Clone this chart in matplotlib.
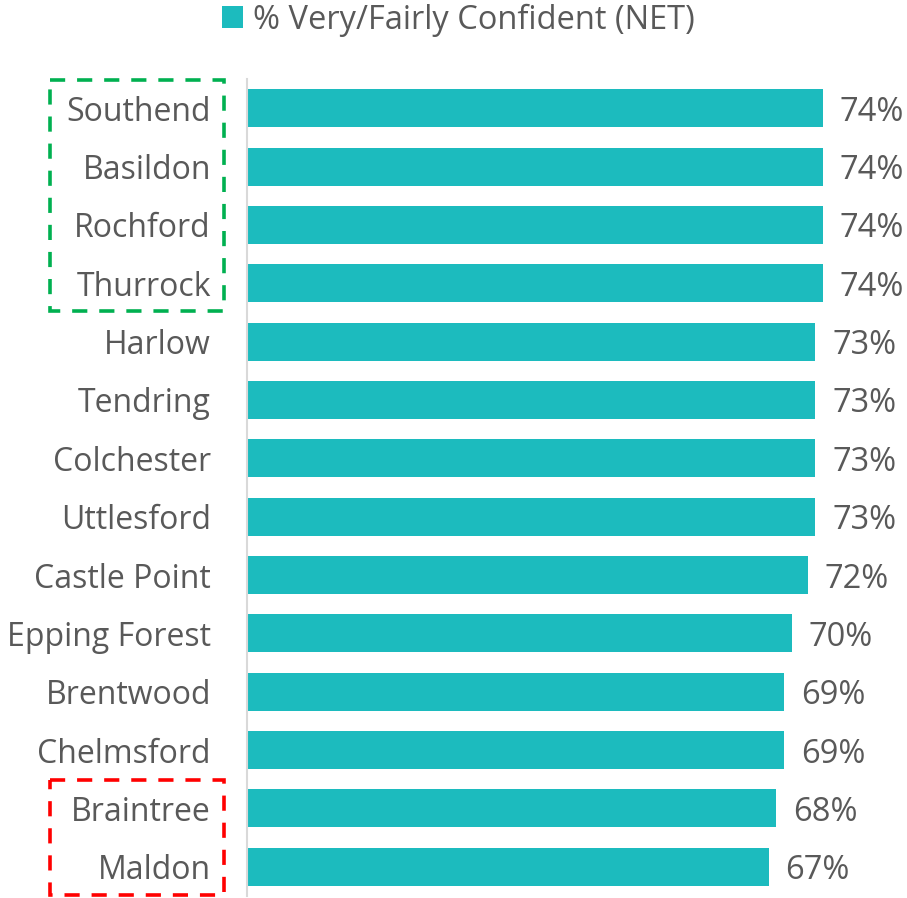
import matplotlib
matplotlib.use("Agg")
import matplotlib.pyplot as plt
from matplotlib.patches import Patch, Rectangle
from matplotlib.transforms import blended_transform_factory

# Survey results by district
districts = ["Southend", "Basildon", "Rochford", "Thurrock", "Harlow", "Tendring",
             "Colchester", "Uttlesford", "Castle Point", "Epping Forest", "Brentwood",
             "Chelmsford", "Braintree", "Maldon"]
confident = [74, 74, 74, 74, 73, 73, 73, 73, 72, 70, 69, 69, 68, 67]
series_name = "% Very/Fairly Confident (NET)"

# highlighted groups (first/last index of each box)
top_group = (0, 3)
bottom_group = (12, 13)

teal = "#1CBBBE"
text_col = "#595959"

plt.rcParams['font.family'] = ['Open Sans', 'DejaVu Sans']

fig = plt.figure(figsize=(9.07, 8.98), dpi=100)
ax = fig.add_axes([247 / 907, 1 - 896 / 898, 654 / 907, (896 - 79) / 898])

y = list(range(len(districts)))
bars = ax.barh(y, confident, height=0.65, color=teal)
lbls = ax.bar_label(bars, labels=[f"{v}%" for v in confident], padding=12,
                    fontsize=23.5, color=text_col)
for t in lbls:
    t.set_verticalalignment("center_baseline")

ax.set_ylim(len(districts) - 0.5, -0.5)
ax.set_xlim(0, 84)
ax.set_yticks(y)
ax.set_yticklabels(districts, fontsize=23, color=text_col)
ax.tick_params(axis='y', length=0, pad=26)
ax.set_xticks([])
for side in ["top", "right", "bottom"]:
    ax.spines[side].set_visible(False)
ax.spines["left"].set_color("#D9D9D9")
ax.spines["left"].set_linewidth(1.5)

# dashed boxes around the top and bottom districts
trans = blended_transform_factory(fig.transFigure, ax.transData)
for (i0, i1), col in [(top_group, "#00B050"), (bottom_group, "#FF0000")]:
    y0 = i0 - 0.48
    y1 = i1 + 0.48
    rect = Rectangle((50 / 907, y0), 174 / 907, y1 - y0, transform=trans,
                     fill=False, edgecolor=col, linewidth=2.6,
                     linestyle=(0, (4.2, 3.3)), clip_on=False)
    fig.add_artist(rect)

fig.legend(handles=[Patch(facecolor=teal, label=series_name)],
           loc="center", bbox_to_anchor=(458 / 907, 1 - 20 / 898),
           frameon=False, fontsize=23.5, labelcolor=text_col,
           handlelength=0.65, handleheight=0.65, handletextpad=0.3)

fig.savefig("out.png", dpi=100)
